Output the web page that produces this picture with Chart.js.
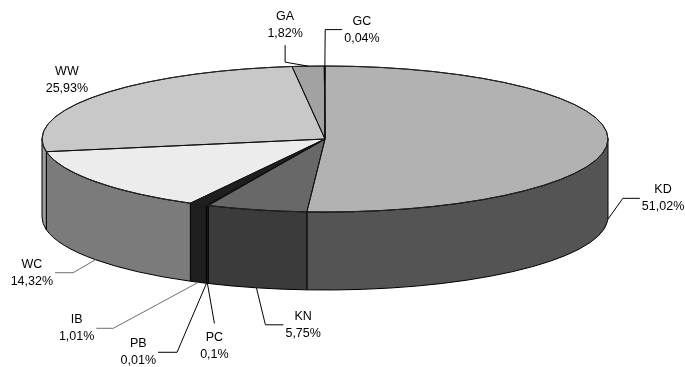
<!DOCTYPE html>
<html><head><meta charset="utf-8">
<script src="https://cdn.jsdelivr.net/npm/chart.js@4.4.0/dist/chart.umd.min.js"></script>
<style>html,body{margin:0;padding:0;background:#fff;}canvas{display:block;}</style>
</head><body>
<canvas id="c" width="685" height="367"></canvas>
<script>
// ---- data ----
const categories = ['KD','KN','PC','PB','IB','WC','WW','GA','GC'];
const shares = [51.02, 5.75, 0.1, 0.01, 1.01, 14.32, 25.93, 1.82, 0.04];

// ---- styles ----
const topColors  = ['#b2b2b2','#686868','#2e2e2e','#333333','#1f1f1f','#ececec','#c8c8c8','#a2a2a2','#8a8a8a'];
const sideColors = ['#545454','#3b3b3b','#282828','#2c2c2c','#1e1e1e','#7b7b7b','#9c9c9c','#707070','#5a5a5a'];
const STRETCH = 283/73;   // horizontal stretch of the pie into an ellipse
const DEPTH = 78;         // thickness of the 3D pie

// label placement (offsets relative to the anchor computed from each slice)
const labelLayout = [
  {anchor:'side', r:1,   elbow:[15,-21],  end:[17,0],  text:'right', line:'#000'},
  {anchor:'side', r:1,   elbow:[9,37],    end:[18,0],  text:'right', line:'#000'},
  {anchor:'side', r:1,   elbow:[7,40],    end:[0,0],   text:'below', line:'#000'},
  {anchor:'side', r:1,   elbow:[-29.5,69],end:[-19,0], text:'left',  line:'#000'},
  {anchor:'side', r:1,   elbow:[-85,46],  end:[-17,0], text:'left',  line:'#6e6e6e'},
  {anchor:'side', r:1,   elbow:[-22.5,13],end:[-18,0], text:'left',  line:'#6e6e6e'},
  {anchor:'top',  r:1,   elbow:[-31,-15], end:[0,0],   text:'center',line:null},
  {anchor:'top',  r:1,   elbow:[-23,-4],  end:[0,-17], text:'above', line:'#000'},
  {anchor:'top',  r:0.8, elbow:[0.5,-51], end:[17,0],  text:'right', line:'#000'}
];

const fmt = v => String(v).replace('.', ',') + '%';

function geom(chart){
  const arcs = chart.getDatasetMeta(0).data;
  const a0 = arcs[0];
  const ry = a0.outerRadius;
  return {arcs, cx:a0.x, cy:a0.y, ry, rx: ry*STRETCH};
}

const pie3d = {
  id:'pie3d',
  beforeDatasetsDraw(chart){
    const ctx = chart.ctx;
    const {arcs, cx, cy, rx, ry} = geom(chart);
    arcs.forEach((arc,i)=>{
      const s = Math.max(arc.startAngle, 0), e = Math.min(arc.endAngle, Math.PI);
      if (e <= s) return;
      ctx.beginPath();
      ctx.ellipse(cx, cy, rx, ry, 0, s, e, false);
      ctx.ellipse(cx, cy+DEPTH, rx, ry, 0, e, s, true);
      ctx.closePath();
      ctx.fillStyle = sideColors[i];
      ctx.fill();
      ctx.lineWidth = 1;
      ctx.strokeStyle = '#000';
      ctx.stroke();
    });
    ctx.save();
    ctx.translate(cx, 0);
    ctx.scale(STRETCH, 1);
    ctx.translate(-cx, 0);
  },
  afterDatasetsDraw(chart){
    const ctx = chart.ctx;
    ctx.restore();
    const {arcs, cx, cy, rx, ry} = geom(chart);
    ctx.lineWidth = 1;
    arcs.forEach(arc=>{
      ctx.beginPath();
      ctx.moveTo(cx, cy);
      ctx.ellipse(cx, cy, rx, ry, 0, arc.startAngle, arc.endAngle, false);
      ctx.closePath();
      ctx.strokeStyle = '#111';
      ctx.stroke();
    });
    ctx.beginPath();
    ctx.ellipse(cx, cy, rx, ry, 0, 0, Math.PI*2);
    ctx.strokeStyle = '#222';
    ctx.stroke();

    // labels
    ctx.font = '12.5px "Liberation Sans", Arial, sans-serif';
    ctx.textBaseline = 'middle';
    ctx.textAlign = 'center';
    arcs.forEach((arc,i)=>{
      const L = labelLayout[i];
      const mid = (arc.startAngle + arc.endAngle)/2;
      const ax = cx + rx*L.r*Math.cos(mid);
      const ay = cy + ry*L.r*Math.sin(mid) + (L.anchor==='side' ? DEPTH : 0);
      const ex = ax + L.elbow[0], ey = ay + L.elbow[1];
      const tx = ex + L.end[0], ty = ey + L.end[1];
      if (L.line){
        ctx.beginPath();
        ctx.moveTo(ax, ay); ctx.lineTo(ex, ey); ctx.lineTo(tx, ty);
        ctx.strokeStyle = L.line; ctx.stroke();
      }
      const lines = [categories[i], fmt(shares[i])];
      const w = Math.max(...lines.map(t=>ctx.measureText(t).width));
      let bx, y1;
      switch(L.text){
        case 'right': bx = tx + 2 + w/2; y1 = ty - 8.5; break;
        case 'left':  bx = tx - 2 - w/2; y1 = ty - 8.5; break;
        case 'above': bx = tx; y1 = ty - 29; break;
        case 'below': bx = tx; y1 = ty + 14; break;
        default:      bx = tx; y1 = ty - 8.5;
      }
      ctx.fillStyle = '#000';
      ctx.fillText(lines[0], bx, y1);
      ctx.fillText(lines[1], bx, y1 + 17);
    });
  }
};

new Chart(document.getElementById('c'), {
  type:'pie',
  data:{
    labels: categories,
    datasets:[{data: shares, backgroundColor: topColors, borderWidth:0}]
  },
  options:{
    responsive:false,
    animation:false,
    events:[],
    layout:{padding:{left:42, right:77, top:66, bottom:155}},
    plugins:{legend:{display:false}, tooltip:{enabled:false}}
  },
  plugins:[pie3d]
});
</script>
</body></html>
